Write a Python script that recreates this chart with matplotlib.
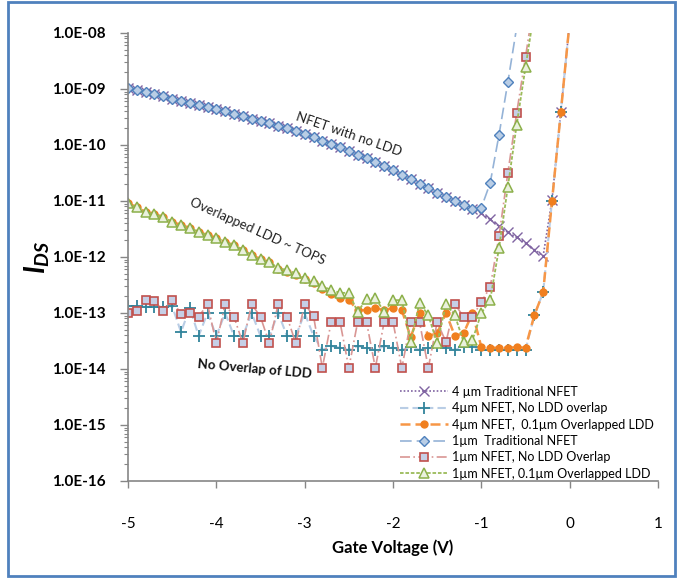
import numpy as np
import matplotlib
matplotlib.use("Agg")
import matplotlib.pyplot as plt
from matplotlib.patches import Rectangle
from matplotlib.ticker import LogLocator, FixedLocator, NullFormatter

plt.rcParams['font.family'] = ['Lato', 'DejaVu Sans']
plt.rcParams['mathtext.fontset'] = 'custom'
plt.rcParams['mathtext.it'] = 'Lato:italic:bold'
plt.rcParams['mathtext.rm'] = 'Lato:bold'

# Gate voltage (V)
gate_v = [-5.0, -4.9, -4.8, -4.7, -4.6, -4.5, -4.4, -4.3, -4.2, -4.1,
          -4.0, -3.9, -3.8, -3.7, -3.6, -3.5, -3.4, -3.3, -3.2, -3.1,
          -3.0, -2.9, -2.8, -2.7, -2.6, -2.5, -2.4, -2.3, -2.2, -2.1,
          -2.0, -1.9, -1.8, -1.7, -1.6, -1.5, -1.4, -1.3, -1.2, -1.1,
          -1.0, -0.9, -0.8, -0.7, -0.6, -0.5, -0.4, -0.3, -0.2, -0.1, 0.0]

nan = float('nan')
# log10(I_DS) values
trad_4um = [-8.98, -9.02, -9.05, -9.09, -9.13, -9.17, -9.21, -9.25, -9.29, -9.32,
            -9.36, -9.40, -9.44, -9.48, -9.53, -9.57, -9.61, -9.66, -9.70, -9.75,
            -9.80, -9.86, -9.92, -9.98, -10.04, -10.10, -10.17, -10.24, -10.31, -10.38,
            -10.45, -10.53, -10.61, -10.69, -10.77, -10.85, -10.92, -11.00, -11.07, -11.14,
            -11.22, -11.33, -11.45, -11.56, -11.65, -11.75, -11.87, -11.98, -10.98, -9.41, -7.8]

noldd_4um = [-12.88, -12.88, -12.89, -12.89, -12.89, -12.88, -13.34, -12.91, -13.41, -13.00,
             -13.41, -13.00, -13.41, -13.41, -13.00, -13.41, -13.41, -13.00, -13.41, -13.41,
             -13.00, -13.41, -13.66, -13.59, -13.62, -13.66, -13.59, -13.62, -13.66, -13.59,
             -13.62, -13.66, -13.60, -13.66, -13.63, -13.59, -13.63, -13.66, -13.60, -13.60,
             -13.66, -13.66, -13.66, -13.66, -13.66, -13.66, -13.04, -12.63, -11.00, -9.41, -7.8]

ovl_4um = [-11.04, -11.11, -11.20, -11.23, -11.29, -11.37, -11.43, -11.48, -11.55, -11.61,
           -11.66, -11.73, -11.79, -11.87, -11.96, -12.04, -12.09, -12.22, -12.26, -12.32,
           -12.40, -12.47, -12.57, -12.66, -12.73, -12.77, -12.95, -12.95, -12.91, -12.95,
           -12.91, -12.95, -13.43, -13.00, -13.41, -13.36, -13.00, -13.41, -13.36, -13.00,
           -13.61, -13.62, -13.62, -13.62, -13.61, -13.62, -13.04, -12.63, -11.00, -9.41, -7.8]

trad_1um = [-8.98, -9.02, -9.05, -9.09, -9.13, -9.17, -9.21, -9.25, -9.29, -9.32,
            -9.36, -9.40, -9.44, -9.48, -9.53, -9.57, -9.61, -9.66, -9.70, -9.75,
            -9.80, -9.86, -9.92, -9.98, -10.04, -10.10, -10.17, -10.24, -10.31, -10.38,
            -10.45, -10.53, -10.61, -10.69, -10.77, -10.85, -10.92, -11.00, -11.07, -11.14,
            -11.12, -10.68, -9.82, -8.88, -7.9, nan, nan, nan, nan, nan, nan]

noldd_1um = [-13.00, -12.96, -12.77, -12.79, -12.96, -12.77, -13.02, -13.00, -13.07, -12.84,
             -13.54, -12.84, -13.07, -13.54, -12.84, -13.07, -13.54, -12.84, -13.07, -13.54,
             -12.84, -13.05, -13.98, -13.16, -13.16, -13.98, -13.16, -13.16, -13.98, -13.16,
             -13.16, -13.98, -13.16, -13.16, -13.98, -13.16, -13.52, -12.84, -13.07, -13.07,
             -12.80, -12.54, -11.63, -10.50, -9.43, -8.43, -7.4, nan, nan, nan, nan]

ovl_1um = [-11.04, -11.11, -11.20, -11.23, -11.29, -11.37, -11.43, -11.48, -11.55, -11.61,
           -11.66, -11.73, -11.79, -11.87, -11.96, -12.04, -12.09, -12.20, -12.23, -12.29,
           -12.38, -12.43, -12.52, -12.59, -12.64, -12.64, -12.98, -12.75, -12.73, -12.98,
           -12.77, -12.77, -13.52, -12.82, -13.04, -13.54, -12.84, -13.04, -13.52, -13.48,
           -13.00, -12.77, -11.84, -10.75, -9.64, -8.61, -7.6, nan, nan, nan, nan]

labels = ["4 \u00b5m Traditional NFET",
          "4\u00b5m NFET, No LDD overlap",
          "4\u00b5m NFET,  0.1\u00b5m Overlapped LDD",
          "1\u00b5m  Traditional NFET",
          "1\u00b5m NFET, No LDD Overlap",
          "1\u00b5m NFET, 0.1\u00b5m Overlapped LDD"]

y_ticks = [1e-16, 1e-15, 1e-14, 1e-13, 1e-12, 1e-11, 1e-10, 1e-9, 1e-8]
y_ticklabels = ["1.0E-16", "1.0E-15", "1.0E-14", "1.0E-13", "1.0E-12",
                "1.0E-11", "1.0E-10", "1.0E-09", "1.0E-08"]
x_ticks = [-5, -4, -3, -2, -1, 0, 1]

styles = [
    dict(color='#8064A2', linestyle=(0, (1, 1.2)), linewidth=1.2, marker='x',
         markersize=6.5, markeredgecolor='#8064A2', markeredgewidth=1.0),
    dict(color='#B9CDE5', linestyle=(0, (4, 2)), linewidth=1.5, marker='+',
         markersize=8, markeredgecolor='#31849B', markeredgewidth=1.3),
    dict(color='#F79646', linestyle=(0, (4, 2)), linewidth=1.8, marker='o',
         markersize=5, markerfacecolor='#F07F1F', markeredgecolor='#F07F1F'),
    dict(color='#95B3D7', linestyle=(0, (7, 3)), linewidth=1.2, marker='D',
         markersize=5, markerfacecolor='#B9CDE5', markeredgecolor='#4F81BD',
         markeredgewidth=1.0),
    dict(color='#D99694', linestyle=(0, (6, 2, 1, 2)), linewidth=1.2, marker='s',
         markersize=6, markerfacecolor='#C6CFE6', markeredgecolor='#C0504D',
         markeredgewidth=1.2),
    dict(color='#9BBB59', linestyle=(0, (2, 1)), linewidth=1.3, marker='^',
         markersize=6.5, markerfacecolor='#EAF1DD', markeredgecolor='#8CB04A',
         markeredgewidth=1.1),
]

series = [trad_4um, noldd_4um, ovl_4um, trad_1um, noldd_1um, ovl_1um]

fig = plt.figure(figsize=(6.81, 5.79), dpi=100)
ax = fig.add_axes([128/681, 1 - 481/579, (658 - 128)/681, (481 - 33)/579])

x = np.array(gate_v)
handles = []
for vals, st, lab in zip(series, styles, labels):
    y = 10.0 ** np.array(vals)
    h, = ax.plot(x, y, label=lab, **st)
    handles.append(h)

ax.set_yscale('log')
ax.set_ylim(1e-16, 1e-8)
ax.set_xlim(-5, 1)

ax.yaxis.set_major_locator(FixedLocator(y_ticks))
ax.set_yticklabels(y_ticklabels)
ax.yaxis.set_minor_locator(LogLocator(base=10, subs=np.arange(2, 10)))
ax.yaxis.set_minor_formatter(NullFormatter())
ax.set_xticks(x_ticks)
ax.set_xticklabels([str(t) for t in x_ticks])

for s in ['top', 'right']:
    ax.spines[s].set_visible(False)
for s in ['left', 'bottom']:
    ax.spines[s].set_color('#868686')
    ax.spines[s].set_linewidth(1.2)

ax.tick_params(axis='y', which='major', direction='out', length=6, width=1,
               color='#868686', labelsize=11, pad=10)
ax.tick_params(axis='y', which='minor', direction='out', length=3, width=0.8,
               color='#868686')
ax.tick_params(axis='x', which='major', direction='out', length=5, width=1,
               color='#868686', labelsize=11, pad=21)
for t in ax.get_yticklabels():
    t.set_fontweight('bold')

ax.set_xlabel('Gate Voltage (V)', fontsize=12, fontweight='bold', labelpad=6)
ax.set_ylabel(r'$I_{DS}$', fontsize=20, labelpad=0)

ax.text(-2.5, 10**-9.80, 'NFET with no LDD', rotation=-19, fontsize=9.5,
        ha='center', va='center', color='#222222')
ax.text(-3.53, 10**-11.55, 'Overlapped LDD ~ TOPS', rotation=-24, fontsize=9.5,
        ha='center', va='center', color='#222222')
ax.text(-3.57, 10**-14.0, 'No Overlap of LDD', rotation=-5, fontsize=9.5,
        ha='center', va='center', color='#111111', fontweight='bold')

leg = ax.legend(handles=handles, loc='lower left',
                bbox_to_anchor=((400 - 128) / 530, 0.003),
                frameon=False, fontsize=9, handlelength=3.84, handletextpad=0.3,
                labelspacing=0.35, borderaxespad=0.0, borderpad=0.0)

fig.patches.append(Rectangle((8/681, 3/579), 1 - 14/681, 1 - 5/579,
                             transform=fig.transFigure, fill=False,
                             edgecolor='#4F81BD', linewidth=2, zorder=10))

fig.savefig('out.png', dpi=100)
